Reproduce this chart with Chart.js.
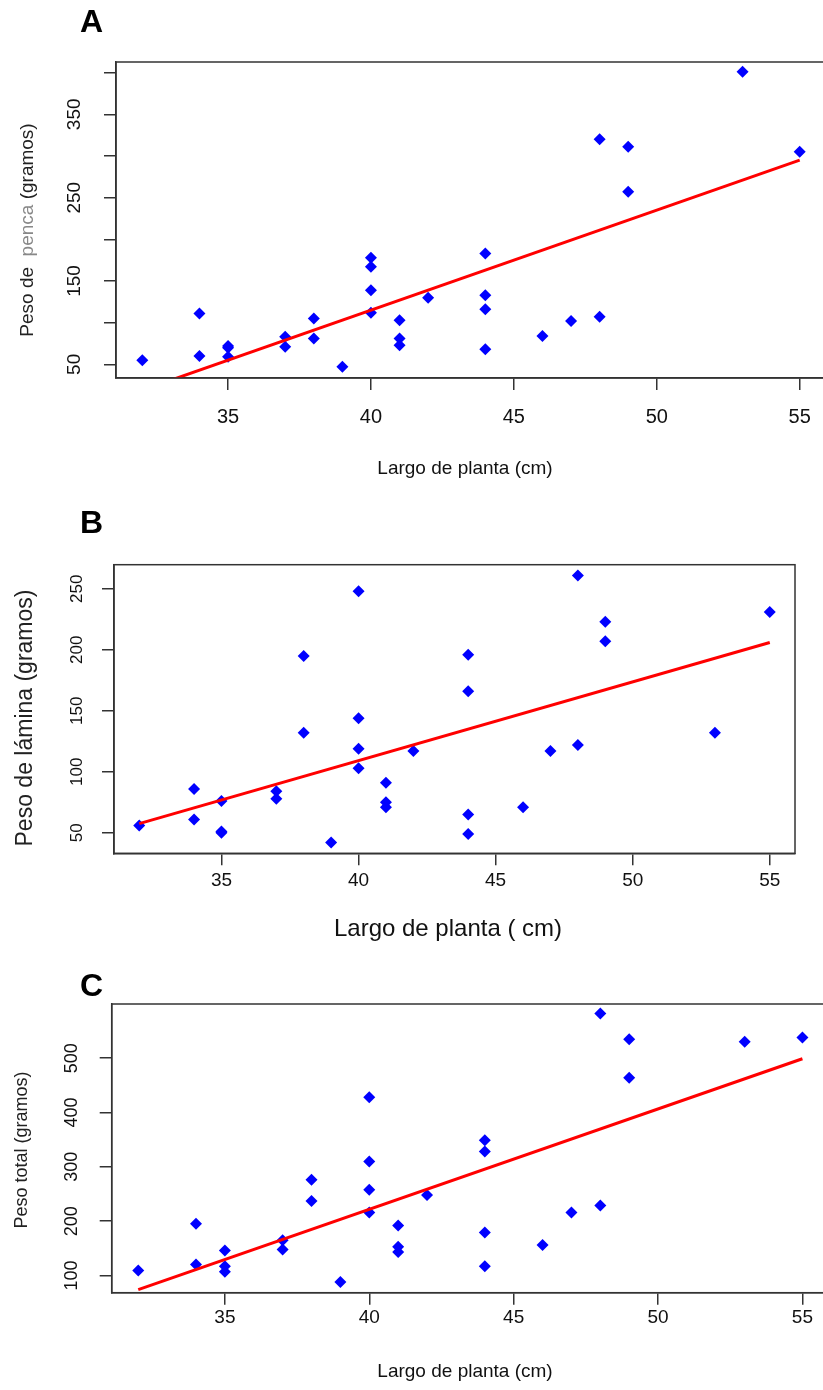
<!DOCTYPE html>
<html>
<head>
<meta charset="utf-8">
<script src="https://cdn.jsdelivr.net/npm/chart.js@4.4.0/dist/chart.umd.min.js"></script>
<style>
  body { margin: 0; background: #fff; }
  #wrap { position: relative; width: 823px; height: 1390px; overflow: hidden; background: #fff; }
  canvas { position: absolute; left: 0; }
</style>
</head>
<body>
<div id="wrap">
  <canvas id="chartA" width="840" height="490" style="top:0px"></canvas>
  <canvas id="chartB" width="840" height="460" style="top:490px"></canvas>
  <canvas id="chartC" width="840" height="440" style="top:950px"></canvas>
</div>
<script>
// largo de planta (cm), same plants in all three panels
const largo = [32, 34, 34, 35, 35, 35, 37, 37, 38, 38, 39, 40, 40, 40, 40, 41, 41, 41, 42, 44, 44, 44, 44, 46, 47, 48, 48, 49, 49, 53, 55];

const pesoPenca  = [55, 111, 60, 72, 70, 59, 83, 71, 105, 81, 47, 178, 167, 139, 112, 103, 81, 73, 130, 183, 133, 116, 68, 84, 102, 320, 107, 311, 257, 401, 305];
const pesoLamina = [56, 86, 61, 76, 51, 50, 84, 78, 195, 132, 42, 248, 144, 119, 103, 91, 75, 71, 117, 196, 166, 65, 49, 71, 117, 261, 122, 223, 207, 132, 231];
const pesoTotal  = [109, 195, 120, 146, 117, 107, 165, 148, 276, 237, 88, 428, 310, 258, 216, 192, 153, 143, 248, 349, 328, 179, 117, 156, 216, 582, 229, 535, 464, 530, 538];

// regression lines, ends at x = 32 and x = 55
const fitX = [32, 55];
const fitPenca = [19, 295];
const fitLamina = [57.5, 206];
const fitTotal = [74, 499];

const xTicks = [35, 40, 45, 50, 55];
const pencaTicks = [50, 100, 150, 200, 250, 300, 350, 400];
const pencaLabels = [50, 150, 250, 350];
const laminaTicks = [50, 100, 150, 200, 250];
const totalTicks = [100, 200, 300, 400, 500];

const FONT = 'Liberation Sans, Arial, sans-serif';

const textPlugin = {
  id: 'rtext',
  afterDraw(chart) {
    const o = chart.options.plugins.rtext;
    const ctx = chart.ctx;
    const a = chart.chartArea;
    const ys = chart.scales.y;

    // box round the plot
    ctx.save();
    ctx.strokeStyle = '#333';
    ctx.lineWidth = 1.5;
    ctx.strokeRect(a.left, a.top, a.right - a.left, a.bottom - a.top);

    // y tick labels, parallel to the axis
    ctx.fillStyle = '#111';
    ctx.font = o.yTickSize + 'px ' + FONT;
    ctx.textAlign = 'center';
    ctx.textBaseline = 'middle';
    o.yLabels.forEach(v => {
      ctx.save();
      ctx.translate(o.yTickX, ys.getPixelForValue(v));
      ctx.rotate(-Math.PI / 2);
      ctx.fillText(String(v), 0, 0);
      ctx.restore();
    });

    // y title, may have parts in another colour
    ctx.font = o.yTitleSize + 'px ' + FONT;
    ctx.textAlign = 'left';
    const total = o.yTitle.reduce((s, p) => s + ctx.measureText(p[0]).width, 0);
    ctx.save();
    ctx.translate(o.yTitleX, o.yTitleY);
    ctx.rotate(-Math.PI / 2);
    let pos = -total / 2;
    o.yTitle.forEach(p => {
      ctx.fillStyle = p[1];
      ctx.fillText(p[0], pos, 0);
      pos += ctx.measureText(p[0]).width;
    });
    ctx.restore();

    // x title
    ctx.fillStyle = '#111';
    ctx.font = o.xTitleSize + 'px ' + FONT;
    ctx.textAlign = 'center';
    ctx.fillText(o.xTitle, o.xTitleX, o.xTitleY);

    // panel letter
    ctx.fillStyle = '#000';
    ctx.font = 'bold 32px ' + FONT;
    ctx.textAlign = 'left';
    ctx.textBaseline = 'alphabetic';
    ctx.fillText(o.letter, 80, o.letterY);
    ctx.restore();
  }
};

function makeChart(id, values, fit, yTicks, cfg) {
  const axisLine = { display: true, color: '#333', width: 1.5 };
  const grid = { drawOnChartArea: false, drawTicks: true, tickLength: 12, color: '#333', lineWidth: 1.5 };
  new Chart(document.getElementById(id), {
    type: 'scatter',
    data: {
      datasets: [
        {
          type: 'line',
          data: fitX.map((x, i) => ({ x: x, y: fit[i] })),
          borderColor: '#ff0000',
          borderWidth: 3,
          pointRadius: 0,
          fill: false,
          order: 0
        },
        {
          data: largo.map((x, i) => ({ x: x, y: values[i] })),
          pointStyle: 'rectRot',
          pointRadius: 6,
          backgroundColor: '#0000ff',
          borderColor: '#0000ff',
          borderWidth: 0,
          order: 1
        }
      ]
    },
    options: {
      responsive: false,
      animation: false,
      devicePixelRatio: 1,
      layout: { padding: { top: cfg.top, right: cfg.right, left: 0, bottom: 0 } },
      plugins: {
        legend: { display: false },
        tooltip: { enabled: false },
        rtext: cfg.text
      },
      scales: {
        x: {
          type: 'linear',
          min: 31.08,
          max: 55.92,
          afterBuildTicks: s => { s.ticks = xTicks.map(v => ({ value: v })); },
          afterFit: s => { s.height = cfg.xHeight; s.paddingLeft = 0; s.paddingRight = 0; },
          grid: grid,
          border: axisLine,
          ticks: {
            font: { family: FONT, size: cfg.xTickSize },
            color: '#111',
            padding: cfg.xTickPad,
            maxRotation: 0,
            autoSkip: false
          }
        },
        y: {
          type: 'linear',
          min: cfg.yMin,
          max: cfg.yMax,
          afterBuildTicks: s => { s.ticks = yTicks.map(v => ({ value: v })); },
          afterFit: s => { s.width = cfg.yWidth; s.paddingTop = 0; s.paddingBottom = 0; },
          grid: grid,
          border: axisLine,
          ticks: { color: 'rgba(0,0,0,0)', font: { size: 10 } }
        }
      }
    },
    plugins: [textPlugin]
  });
}

makeChart('chartA', pesoPenca, fitPenca, pencaTicks, {
  top: 62, right: 14, xHeight: 112, yWidth: 116, yMin: 33.6, yMax: 412.8,
  xTickSize: 20, xTickPad: 15,
  text: {
    letter: 'A', letterY: 32,
    yLabels: pencaLabels, yTickX: 75, yTickSize: 19,
    yTitle: [['Peso de  ', '#222'], ['penca', '#888'], [' (gramos)', '#222']],
    yTitleX: 28, yTitleY: 230, yTitleSize: 19,
    xTitle: 'Largo de planta (cm)', xTitleX: 465, xTitleY: 469, xTitleSize: 19
  }
});

makeChart('chartB', pesoLamina, fitLamina, laminaTicks, {
  top: 74.7, right: 45, xHeight: 96.7, yWidth: 114, yMin: 33.2, yMax: 269.8,
  xTickSize: 19, xTickPad: 4,
  text: {
    letter: 'B', letterY: 43,
    yLabels: laminaTicks, yTickX: 77, yTickSize: 17,
    yTitle: [['Peso de lámina (gramos)', '#222']],
    yTitleX: 26, yTitleY: 228, yTitleSize: 23,
    xTitle: 'Largo de planta ( cm)', xTitleX: 448, xTitleY: 439, xTitleSize: 24
  }
});

makeChart('chartC', pesoTotal, fitTotal, totalTicks, {
  top: 54, right: 11, xHeight: 97.3, yWidth: 111.7, yMin: 68.3, yMax: 599.7,
  xTickSize: 19, xTickPad: 2,
  text: {
    letter: 'C', letterY: 46,
    yLabels: totalTicks, yTickX: 72.5, yTickSize: 18,
    yTitle: [['Peso total (gramos)', '#222']],
    yTitleX: 22, yTitleY: 200, yTitleSize: 18,
    xTitle: 'Largo de planta (cm)', xTitleX: 465, xTitleY: 422, xTitleSize: 19
  }
});
</script>
</body>
</html>
